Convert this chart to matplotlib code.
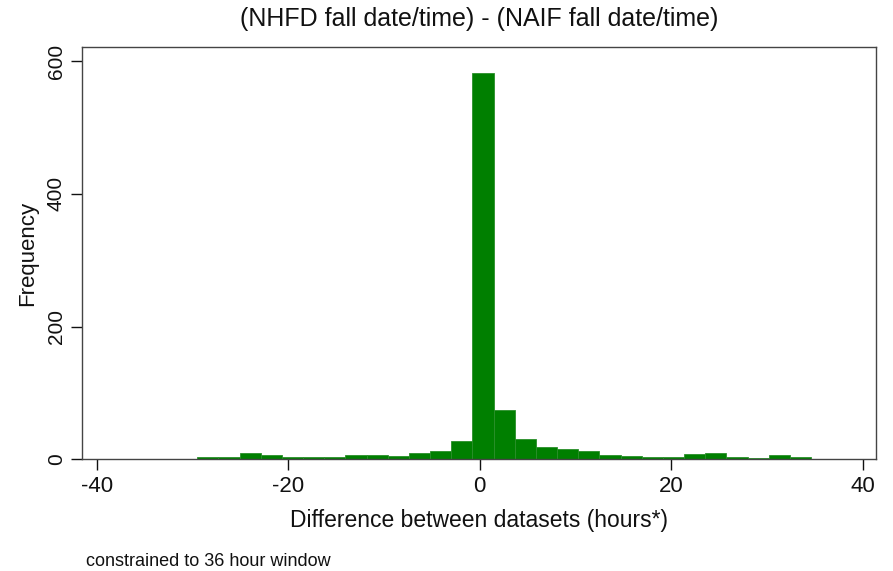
import matplotlib

matplotlib.use("Agg")
import matplotlib.pyplot as plt
import numpy as np

# histogram: 29 bins (Stata default), counts
bin_start = -29.5
bin_width = 2.21
counts = [4, 3, 9, 7, 3, 3, 3, 7, 7, 5, 9, 12, 28, 582,
          74, 30, 19, 16, 12, 7, 5, 3, 3, 8, 10, 4, 2, 6, 3]
x_ticks = [-40, -20, 0, 20, 40]
y_ticks = [0, 200, 400, 600]

title = "(NHFD fall date/time) - (NAIF fall date/time)"
xlabel = "Difference between datasets (hours*)"
ylabel = "Frequency"
note = "constrained to 36 hour window"

plt.rcParams.update({
    "font.family": ["Liberation Sans", "DejaVu Sans"],
    "axes.unicode_minus": False,
    "text.color": "#111111",
    "axes.labelcolor": "#111111",
    "xtick.color": "#111111",
    "ytick.color": "#111111",
})

edges = bin_start + bin_width * np.arange(len(counts) + 1)

fig = plt.figure(figsize=(8.93, 5.71), dpi=100)
ax = fig.add_axes([0.0922, 0.1956, 0.889, 0.7216])
ax.bar(edges[:-1], counts, width=bin_width, align="edge",
       color="#007f00", edgecolor="#2a8f2a", linewidth=0.6)

ax.set_xlim(-41.5, 41.4)
ax.set_ylim(0, 621)
ax.set_xticks(x_ticks)
ax.set_yticks(y_ticks)
ax.tick_params(axis="both", length=8, width=1, labelsize=15, pad=4)
ax.tick_params(axis="x", labelsize=16)
for lbl in ax.get_yticklabels():
    lbl.set_rotation(90)
    lbl.set_va("center")
for s in ax.spines.values():
    s.set_color("#444444")
    s.set_linewidth(1)

ax.set_xlabel(xlabel, fontsize=16.5, labelpad=9)
ax.set_ylabel(ylabel, fontsize=16, labelpad=6)
fig.text(0.537, 0.966, title, ha="center", va="center", fontsize=18)
fig.text(0.096, 0.016, note, ha="left", va="center", fontsize=13)

fig.savefig("out.png", dpi=100, facecolor="white")
